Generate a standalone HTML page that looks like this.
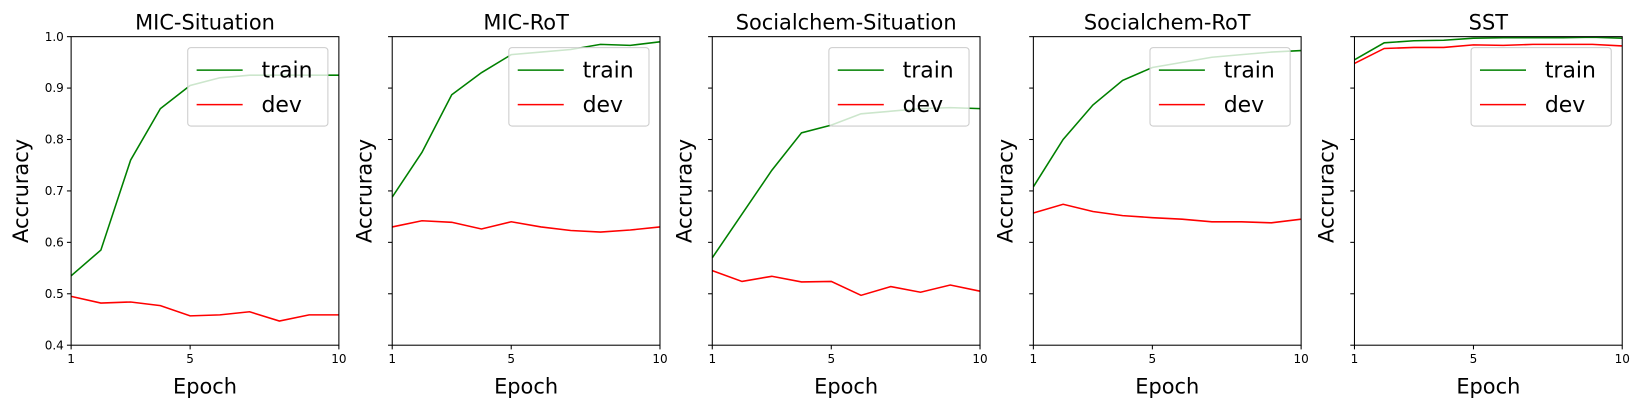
<!DOCTYPE html>
<html><head><meta charset="utf-8"><style>
body{margin:0;background:#fff}
svg{display:block}
svg text{font-family:"DejaVu Sans","Liberation Sans",sans-serif;fill:#000}
</style></head><body>
<svg id="chart" width="1640" height="408" viewBox="0 0 1568 390"></svg>
<script>
const titles=["MIC-Situation","MIC-RoT","Socialchem-Situation","Socialchem-RoT","SST"];
const epochs=[1,2,3,4,5,6,7,8,9,10];
const yTicks=[0.4,0.5,0.6,0.7,0.8,0.9,1.0];
const xTicks=[1,5,10];
const trainMIC_S=[0.535,0.585,0.76,0.86,0.905,0.92,0.925,0.925,0.925,0.925];
const devMIC_S=[0.495,0.482,0.484,0.477,0.457,0.459,0.465,0.447,0.459,0.459];
const trainMIC_R=[0.688,0.775,0.887,0.93,0.965,0.97,0.975,0.985,0.983,0.99];
const devMIC_R=[0.63,0.642,0.639,0.626,0.64,0.63,0.623,0.62,0.624,0.63];
const trainSC_S=[0.57,0.655,0.74,0.813,0.828,0.85,0.855,0.86,0.862,0.86];
const devSC_S=[0.545,0.524,0.534,0.523,0.524,0.497,0.514,0.503,0.517,0.505];
const trainSC_R=[0.708,0.8,0.867,0.915,0.94,0.95,0.96,0.965,0.97,0.973];
const devSC_R=[0.657,0.674,0.66,0.652,0.648,0.645,0.64,0.64,0.638,0.645];
const trainSST=[0.955,0.988,0.992,0.993,0.997,0.998,0.998,0.998,0.999,0.997];
const devSST=[0.948,0.977,0.979,0.979,0.984,0.983,0.985,0.985,0.985,0.982];
const trainAll=[trainMIC_S,trainMIC_R,trainSC_S,trainSC_R,trainSST];
const devAll=[devMIC_S,devMIC_R,devSC_S,devSC_R,devSST];

const NS="http://www.w3.org/2000/svg";
const svg=document.getElementById('chart');
function mk(tag,attrs,parent){const e=document.createElementNS(NS,tag);for(const k in attrs)e.setAttribute(k,attrs[k]);(parent||svg).appendChild(e);return e;}
const lefts=[68,375,681,988,1295],W=256,T=35,B=330;
titles.forEach((title,p)=>{
  const L=lefts[p];
  const g=mk('g',{});
  
  
  const xs=v=>L+(v-1)/9*W;
  const ys=v=>B-(v-0.4)/0.6*(B-T);
  const clip=mk('clipPath',{id:'c'+p},g);mk('rect',{x:L,y:T,width:W,height:B-T},clip);
  [[trainAll[p],'#008000','train-line'],[devAll[p],'#ff0000','dev-line']].forEach(([arr,c,n])=>{
    const pl=mk('polyline',{points:arr.map((v,i)=>xs(epochs[i])+','+ys(v)).join(' '),fill:'none',stroke:c,'stroke-width':1.5,'clip-path':'url(#c'+p+')'},g);
    
    
  });
  const lg=mk('g',{},g);
  
  
  mk('rect',{x:L+111.5,y:T+10.5,width:134,height:75,rx:3,fill:'rgba(255,255,255,0.8)',stroke:'#ccc'},lg);
  [['train','#008000',T+32],['dev','#ff0000',T+65]].forEach(([t,c,y])=>{
    const e=mk('g',{},lg);
    
    
    mk('line',{x1:L+120,x2:L+164,y1:y,y2:y,stroke:c,'stroke-width':1.5},e);
    const tx=mk('text',{x:L+182,y:y+7,'font-size':21},e);tx.textContent=t;
  });
  mk('rect',{x:L,y:T,width:W,height:B-T,fill:'none',stroke:'#000','stroke-width':1},g);
  yTicks.forEach(v=>{
    mk('line',{x1:L-4,x2:L,y1:ys(v),y2:ys(v),stroke:'#000'},g);
    if(p===0){const t=mk('text',{x:L-7,y:ys(v)+4,'font-size':11.5,'text-anchor':'end'},g);t.textContent=v.toFixed(1);}
  });
  xTicks.forEach(v=>{
    mk('line',{x1:xs(v),x2:xs(v),y1:B,y2:B+4,stroke:'#000'},g);
    const t=mk('text',{x:xs(v),y:B+17,'font-size':11.5,'text-anchor':'middle'},g);t.textContent=v;
  });
  const tt=mk('text',{x:L+W/2,y:28,'font-size':20,'text-anchor':'middle'},g);tt.textContent=title;
  
  const xl=mk('text',{x:L+W/2,y:376,'font-size':20,'text-anchor':'middle'},g);xl.textContent='Epoch';
  
  const yoff=p===0?41:20;
  const yl=mk('text',{x:0,y:0,'font-size':20,'text-anchor':'middle',transform:`translate(${L-yoff},${(T+B)/2}) rotate(-90)`},g);yl.textContent='Accruracy';
  
});
</script>
</body></html>
